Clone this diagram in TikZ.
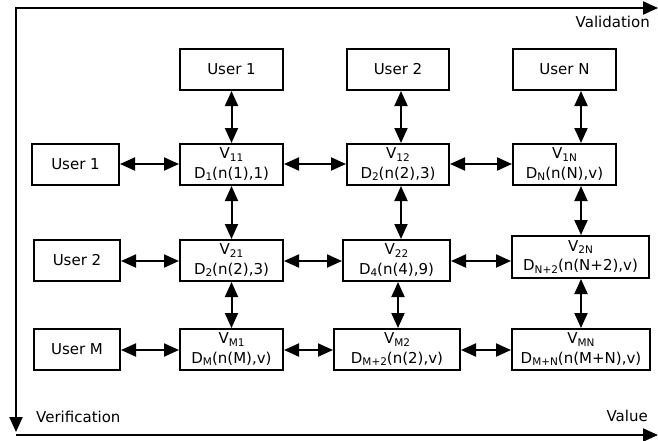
\documentclass[tikz,border=0pt]{standalone}
\usepackage{fontspec}
\setmainfont{DejaVu Sans}
\usetikzlibrary{arrows.meta}
\newcommand\sbx[1]{\raisebox{-0.3ex}{\fontsize{10.5}{10.5}\selectfont #1}}
\tikzset{
  box/.style={draw, line width=2pt, inner sep=0pt, align=center,
    font=\fontsize{15}{19.5}\selectfont, minimum height=41pt},
  tipx/.tip={Triangle[length=15pt,width=13pt]},
  dbl/.style={tipx-tipx, line width=2pt},
  axis/.style={line width=2pt, line join=miter},
  lbl/.style={font=\fontsize{15}{17}\selectfont, inner sep=0pt}
}
\begin{document}
\begin{tikzpicture}[x=1pt,y=-1pt]
\useasboundingbox (0,0) rectangle (658,440);
% axes
\coordinate (tl) at (16,8);
\coordinate (tr) at (658,8);
\coordinate (bl) at (16,432);
\coordinate (bb) at (16,435);
\coordinate (br) at (658,435);
\draw[axis, tipx-tipx] (bl) -- (tl) -- (tr);
\draw[axis, -tipx] (bb) -- (br);
\node[lbl, anchor=east] (valid) at (650,22) {Validation};
\node[lbl, anchor=east] (value) at (648,416) {Value};
\node[lbl, anchor=west] (verif) at (36,417) {Verification};
% top users
\node[box, minimum width=103pt] (ut1) at (231.5,69.5) {User 1};
\node[box, minimum width=102pt] (ut2) at (398,69.5) {User 2};
\node[box, minimum width=103pt] (utn) at (564.5,69.5) {User N};
% left users
\node[box, minimum width=87pt] (ul1) at (75.5,164.5) {User 1};
\node[box, minimum width=86pt] (ul2) at (77,260.5) {User 2};
\node[box, minimum width=86pt] (ulm) at (77,349.5) {User M};
% matrix
\node[box, minimum width=103pt] (v11) at (231.5,164.5) {V\sbx{11}\\D\sbx{1}(n(1),1)};
\node[box, minimum width=102pt] (v12) at (398,164.5) {V\sbx{12}\\D\sbx{2}(n(2),3)};
\node[box, minimum width=103pt] (v1n) at (564.5,164.5) {V\sbx{1N}\\D\sbx{N}(n(N),v)};
\node[box, minimum width=103pt] (v21) at (231.5,260.5) {V\sbx{21}\\D\sbx{2}(n(2),3)};
\node[box, minimum width=107pt] (v22) at (396.5,260.5) {V\sbx{22}\\D\sbx{4}(n(4),9)};
\node[box, minimum width=137pt, minimum height=42pt] (v2n) at (580.5,257) {V\sbx{2N}\\D\sbx{N+2}(n(N+2),v)};
\node[box, minimum width=126pt] (vm2) at (397,349.5) {V\sbx{M2}\\D\sbx{M+2}(n(2),v)};
\node[box, minimum width=103pt] (vm1) at (231.5,349.5) {V\sbx{M1}\\D\sbx{M}(n(M),v)};
\node[box, minimum width=138pt] (vmn) at (581,349.5) {V\sbx{MN}\\D\sbx{M+N}(n(M+N),v)};
% arrow guide coordinates
\coordinate (c1) at (231.5,0);
\coordinate (c2a) at (401,0);
\coordinate (c2b) at (398,0);
\coordinate (c3) at (581,0);
\coordinate (r1) at (0,164);
\coordinate (r2) at (0,261);
\coordinate (r3) at (0,350);
% vertical arrows
\draw[dbl] (ut1.south -| c1) -- (v11.north -| c1);
\draw[dbl] (v11.south -| c1) -- (v21.north -| c1);
\draw[dbl] (v21.south -| c1) -- (vm1.north -| c1);
\draw[dbl] (ut2.south -| c2a) -- (v12.north -| c2a);
\draw[dbl] (v12.south -| c2a) -- (v22.north -| c2a);
\draw[dbl] (v22.south -| c2b) -- (vm2.north -| c2b);
\draw[dbl] (utn.south -| c3) -- (v1n.north -| c3);
\draw[dbl] (v1n.south -| c3) -- (v2n.north -| c3);
\draw[dbl] (v2n.south -| c3) -- (vmn.north -| c3);
% horizontal arrows
\draw[dbl] (ul1.east |- r1) -- (v11.west |- r1);
\draw[dbl] (v11.east |- r1) -- (v12.west |- r1);
\draw[dbl] (v12.east |- r1) -- (v1n.west |- r1);
\draw[dbl] (ul2.east |- r2) -- (v21.west |- r2);
\draw[dbl] (v21.east |- r2) -- (v22.west |- r2);
\draw[dbl] (v22.east |- r2) -- (v2n.west |- r2);
\draw[dbl] (ulm.east |- r3) -- (vm1.west |- r3);
\draw[dbl] (vm1.east |- r3) -- (vm2.west |- r3);
\draw[dbl] (vm2.east |- r3) -- (vmn.west |- r3);
\end{tikzpicture}
\end{document}
